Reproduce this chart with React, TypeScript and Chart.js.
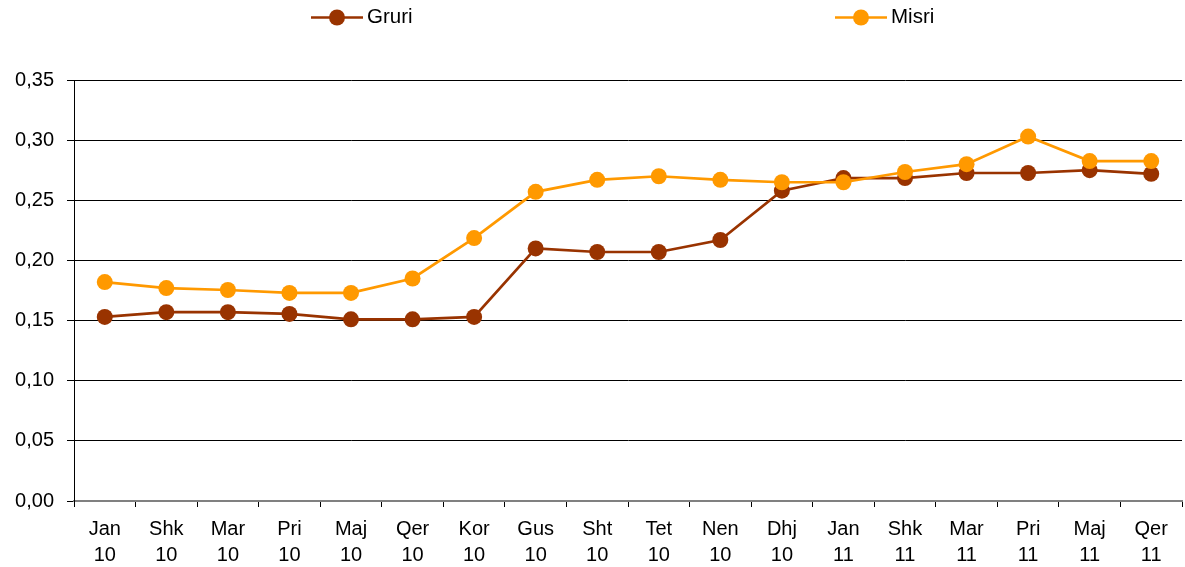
import React, { useEffect, useRef } from "react";
import { Chart, registerables } from "chart.js";

Chart.register(...registerables);

const months = ["Jan", "Shk", "Mar", "Pri", "Maj", "Qer", "Kor", "Gus", "Sht", "Tet", "Nen", "Dhj", "Jan", "Shk", "Mar", "Pri", "Maj", "Qer"];
const years = ["10", "10", "10", "10", "10", "10", "10", "10", "10", "10", "10", "10", "11", "11", "11", "11", "11", "11"];
const gruri = [0.153, 0.157, 0.157, 0.1555, 0.151, 0.151, 0.153, 0.21, 0.207, 0.207, 0.217, 0.258, 0.2685, 0.2685, 0.2727, 0.2727, 0.275, 0.272];
const misri = [0.182, 0.177, 0.1754, 0.173, 0.173, 0.185, 0.2186, 0.257, 0.267, 0.27, 0.267, 0.265, 0.265, 0.2735, 0.28, 0.303, 0.2826, 0.2826];
const seriesNames = ["Gruri", "Misri"];
const seriesColors = ["#993300", "#FF9900"];

const FONT = "'Liberation Sans', Arial, sans-serif";

const legendPlugin = {
  id: "customLegend",
  afterDraw(chart: any) {
    const ctx = chart.ctx;
    const positions = [311, 835];
    ctx.save();
    seriesNames.forEach((name, i) => {
      const x = positions[i];
      const y = 17.5;
      ctx.strokeStyle = seriesColors[i];
      ctx.lineWidth = 2.5;
      ctx.beginPath();
      ctx.moveTo(x, y);
      ctx.lineTo(x + 52, y);
      ctx.stroke();
      ctx.fillStyle = seriesColors[i];
      ctx.beginPath();
      ctx.arc(x + 26, y, 8, 0, Math.PI * 2);
      ctx.fill();
      ctx.fillStyle = "#000";
      ctx.font = `20.5px ${FONT}`;
      ctx.textBaseline = "middle";
      ctx.textAlign = "left";
      ctx.fillText(name, x + 56, y);
    });
    ctx.restore();
  },
};

export default function App() {
  const ref = useRef<HTMLCanvasElement>(null);
  useEffect(() => {
    if (!ref.current) return;
    const labels = months.map((m, i) => [m, years[i]]);
    const chart = new Chart(ref.current, {
      type: "line",
      data: {
        labels,
        datasets: [gruri, misri].map((d, i) => ({
          label: seriesNames[i],
          data: d,
          order: i === 0 ? 1 : 0,
          borderColor: seriesColors[i],
          backgroundColor: seriesColors[i],
          pointBackgroundColor: seriesColors[i],
          pointBorderColor: seriesColors[i],
          pointRadius: 8,
          pointBorderWidth: 0,
          borderWidth: 2.7,
          tension: 0,
          fill: false,
        })),
      },
      options: {
        animation: false,
        responsive: false,
        maintainAspectRatio: false,
        layout: { padding: { top: 80, right: 0, left: 0, bottom: 0 } },
        plugins: {
          legend: { display: false },
          tooltip: { enabled: false },
        },
        scales: {
          x: {
            offset: true,
            grid: {
              offset: true,
              drawOnChartArea: false,
              drawTicks: true,
              tickLength: 6,
              color: "#000",
            },
            border: { color: "#808080", width: 2 },
            ticks: {
              color: "#000",
              font: { family: FONT, size: 20, lineHeight: 1.3 },
              maxRotation: 0,
              autoSkip: false,
              padding: 9,
            },
            afterFit(scale: any) {
              scale.height = 66;
            },
          },
          y: {
            min: 0,
            max: 0.35,
            grid: {
              color: "#000",
              lineWidth: 1,
              drawTicks: true,
              tickLength: 7,
            },
            border: { color: "#000", width: 1 },
            ticks: {
              stepSize: 0.05,
              color: "#000",
              font: { family: FONT, size: 20 },
              padding: 13,
              callback: (v: any) => Number(v).toFixed(2).replace(".", ","),
            },
            afterFit(scale: any) {
              scale.width = 74;
            },
          },
        },
      },
      plugins: [legendPlugin],
    });
    return () => chart.destroy();
  }, []);
  return (
    <div style={{ position: "fixed", left: 0, top: 0, width: 1185, height: 567, background: "#fff", overflow: "hidden" }}>
      <canvas ref={ref} width={1190} height={567} style={{ display: "block" }} />
    </div>
  );
}
